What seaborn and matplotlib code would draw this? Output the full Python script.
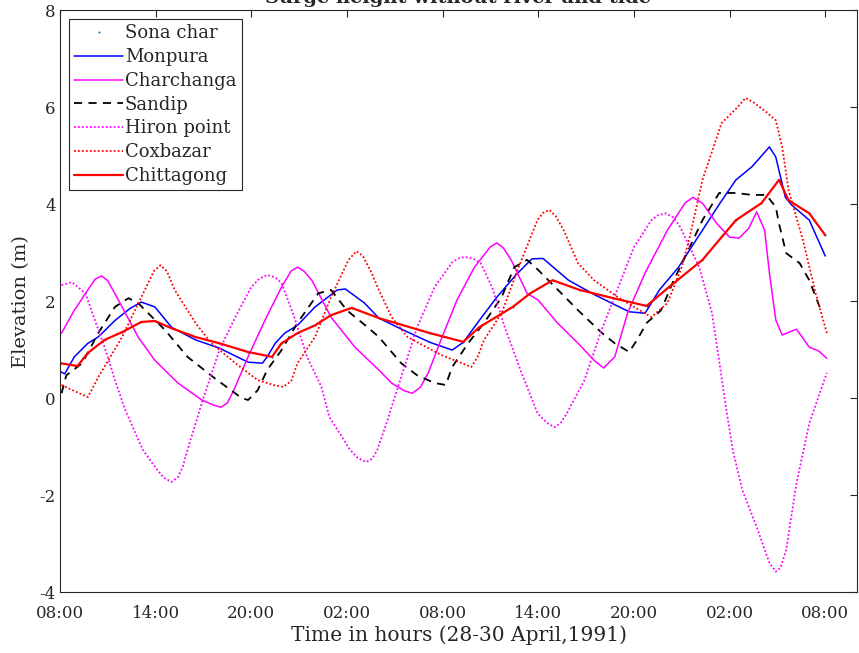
import numpy as np
import matplotlib.pyplot as plt
import pandas as pd
import seaborn as sns

sns.set_style('white')
plt.rcParams['font.family'] = ['DejaVu Serif']

# hours after 08:00, 28 April 1991
mon_t = [0, 0.3, 0.9, 1.75, 2.4, 3.45, 4.4, 5.1, 5.95, 7.0, 8.5, 10.0, 11.8, 12.7, 13.0, 13.5, 14.1, 14.9, 16.0,
         17.4, 17.9, 19.1, 20.0, 21.3, 23.2, 24.6, 25.3, 26.3, 27.4, 28.6, 29.6, 30.3, 31.9, 33.6, 35.7, 36.7,
         37.6, 38.8, 39.9, 41.4, 42.4, 43.4, 44.5, 44.9, 45.5, 45.9, 47.0, 48.0]
mon_v = [0.55, 0.50, 0.85, 1.13, 1.26, 1.6, 1.85, 1.98, 1.88, 1.46, 1.2, 1.03, 0.74, 0.72, 0.85, 1.13, 1.34, 1.5, 1.88,
         2.23, 2.25, 1.96, 1.65, 1.44, 1.15, 0.99, 1.15, 1.6, 2.08, 2.54, 2.87, 2.88, 2.43, 2.12, 1.78, 1.75,
         2.23, 2.70, 3.26, 4.02, 4.5, 4.77, 5.18, 4.97, 4.14, 3.98, 3.67, 2.93]

chit_t = [0, 1.1, 1.75, 2.8, 3.9, 5.1, 5.95, 7.0, 8.5, 10.0, 11.8, 13.3, 13.9, 14.9, 16.0, 17.0, 18.3, 20.0,
          23.2, 25.3, 26.3, 28.4, 29.5, 30.9, 32.6, 34.7, 36.8, 38.2, 40.3, 42.4, 44.0, 45.1, 45.7, 47.0, 48.0]
chit_v = [0.72, 0.66, 0.93, 1.2, 1.36, 1.57, 1.59, 1.44, 1.26, 1.13, 0.95, 0.85, 1.13, 1.34, 1.5, 1.71, 1.86, 1.65,
          1.34, 1.16, 1.46, 1.88, 2.16, 2.43, 2.23, 2.06, 1.9, 2.29, 2.85, 3.67, 4.02, 4.5, 4.08, 3.81, 3.36]

sona_t = [0, 1.1, 1.75, 2.8, 3.9, 5.1, 5.95, 7.0, 8.5, 10.0, 11.8, 13.3, 13.9, 14.9, 16.0, 17.0, 18.3, 20.0,
          23.2, 25.3, 26.3, 28.4, 29.5, 30.9, 32.6, 34.7, 36.8, 38.2, 40.3, 42.4, 44.0, 45.1, 45.7, 47.0, 48.0]
sona_v = [0.72, 0.66, 0.93, 1.2, 1.36, 1.57, 1.59, 1.44, 1.26, 1.13, 0.95, 0.85, 1.13, 1.34, 1.5, 1.71, 1.86, 1.65,
          1.34, 1.16, 1.46, 1.88, 2.16, 2.43, 2.23, 2.06, 1.9, 2.29, 2.85, 3.67, 4.02, 4.5, 4.08, 3.81, 3.36]

sand_t = [0.1, 0.4, 1.4, 2.4, 3.45, 4.3, 4.9, 6.6, 8.0, 9.7, 11.4, 11.8, 12.4, 13.0, 13.9, 14.9, 16.2, 17.0,
          18.0, 19.3, 20.0, 21.4, 22.4, 23.5, 24.2, 24.6, 25.6, 26.6, 27.7, 28.5, 29.3, 30.0, 31.45, 32.5, 34.0,
          34.8, 35.7, 36.2, 36.8, 37.7, 38.5, 39.5, 40.3, 41.35, 42.4, 43.4, 44.3, 44.9, 45.1, 45.55, 46.4, 47.0, 47.8]
sand_v = [0.1, 0.47, 0.72, 1.34, 1.88, 2.06, 1.96, 1.4, 0.85, 0.41, 0.0, -0.04, 0.16, 0.58, 0.99, 1.55, 2.16, 2.23,
          1.81, 1.46, 1.26, 0.72, 0.47, 0.31, 0.27, 0.64, 1.13, 1.55, 2.08, 2.70, 2.85, 2.64, 2.16, 1.81, 1.34,
          1.13, 0.95, 1.2, 1.55, 1.81, 2.43, 3.11, 3.67, 4.23, 4.23, 4.19, 4.19, 3.94, 3.6, 2.99, 2.78, 2.43, 1.75]

char_t = [0.1, 0.9, 1.75, 2.2, 2.6, 3.0, 3.9, 4.9, 5.95, 7.4, 8.9, 9.6, 10.1, 10.5, 10.9, 11.8, 12.85, 13.9, 14.5,
          14.9, 15.3, 15.8, 17.0, 18.5, 20.0, 20.8, 21.6, 22.1, 22.6, 23.1, 23.9, 24.9, 26.0, 27.0, 27.4, 27.8,
          28.3, 29.3, 30.0, 31.2, 32.5, 33.5, 34.1, 34.8, 35.6, 36.7, 38.1, 39.2, 39.7, 40.3, 41.2, 42.0, 42.6,
          43.2, 43.7, 44.2, 44.5, 44.9, 45.3, 46.2, 47.0, 47.6, 48.1]
char_v = [1.34, 1.81, 2.23, 2.45, 2.52, 2.42, 1.88, 1.26, 0.78, 0.31, -0.04, -0.14, -0.19, -0.1, 0.16, 0.85, 1.6,
          2.29, 2.62, 2.70, 2.62, 2.43, 1.67, 1.05, 0.58, 0.31, 0.15, 0.1, 0.22, 0.52, 1.2, 2.02, 2.70, 3.12, 3.2,
          3.1, 2.85, 2.16, 2.02, 1.55, 1.13, 0.78, 0.62, 0.85, 1.75, 2.58, 3.46, 4.02, 4.14, 4.02, 3.6, 3.32, 3.30,
          3.5, 3.84, 3.46, 2.58, 1.61, 1.30, 1.42, 1.05, 0.97, 0.82]

hiron_t = [0.1, 0.75, 1.6, 2.2, 2.8, 3.45, 4.1, 5.2, 6.1, 6.5, 7.0, 7.4, 7.7, 8.0, 8.9, 10.0, 11.0, 12.0, 12.5,
           13.0, 13.5, 13.9, 14.7, 15.5, 16.4, 16.9, 18.2, 18.7, 19.2, 19.6, 19.9, 20.55, 21.4, 22.4, 23.5, 24.6,
           25.0, 25.4, 25.9, 26.4, 27.1, 27.9, 28.95, 29.95, 30.5, 31.0, 31.4, 31.8, 32.9, 33.9, 34.95, 36.0, 37.1,
           37.5, 38.0, 38.5, 38.9, 40.1, 40.9, 41.4, 41.8, 42.2, 42.8, 43.7, 44.5, 44.9, 45.2, 45.55, 46.2, 47.0, 48.1]
hiron_v = [2.33, 2.39, 2.16, 1.6, 1.05, 0.37, -0.25, -1.07, -1.48, -1.64, -1.73, -1.63, -1.42, -1.07, -0.1, 0.99,
           1.67, 2.29, 2.46, 2.54, 2.49, 2.37, 1.67, 0.85, 0.23, -0.39, -1.07, -1.24, -1.32, -1.25, -1.07, -0.45,
           0.43, 1.46, 2.29, 2.8, 2.88, 2.91, 2.88, 2.78, 2.29, 1.46, 0.52, -0.31, -0.5, -0.6, -0.52, -0.31, 0.37,
           1.34, 2.23, 3.11, 3.67, 3.77, 3.81, 3.72, 3.53, 2.70, 1.75, 0.65, -0.25, -1.07, -1.9, -2.66, -3.4, -3.58,
           -3.5, -3.13, -1.75, -0.52, 0.52]

cox_t = [0.1, 1.2, 1.75, 2.4, 3.9, 5.1, 5.9, 6.3, 6.7, 7.2, 8.5, 9.5, 11.0, 12.4, 13.4, 14.0, 14.5, 14.9, 16.0,
         17.0, 18.1, 18.6, 19.0, 19.55, 20.0, 20.8, 21.8, 23.9, 25.2, 25.8, 26.2, 26.6, 27.7, 28.7, 29.95, 30.3,
         30.7, 31.1, 31.6, 32.5, 33.5, 35.0, 36.0, 37.1, 38.1, 39.0, 39.5, 40.3, 41.5, 42.5, 43.0, 43.5, 44.3,
         44.9, 45.3, 45.7, 46.6, 47.4, 48.1]
cox_v = [0.27, 0.1, 0.02, 0.43, 1.26, 2.08, 2.62, 2.74, 2.62, 2.23, 1.55, 1.13, 0.72, 0.37, 0.27, 0.23, 0.35,
         0.72, 1.26, 2.08, 2.85, 3.03, 2.93, 2.58, 2.23, 1.67, 1.26, 0.89, 0.72, 0.64, 0.85, 1.2, 1.75, 2.64, 3.67,
         3.82, 3.88, 3.75, 3.46, 2.78, 2.43, 2.08, 1.88, 1.67, 1.96, 2.70, 3.32, 4.5, 5.67, 6.0, 6.19, 6.1, 5.90,
         5.73, 5.18, 4.29, 3.26, 2.16, 1.34]

tick_hours = [0, 6, 12, 18, 24, 30, 36, 42, 48]
tick_labels = ['08:00', '14:00', '20:00', '02:00', '08:00', '14:00', '20:00', '02:00', '08:00']
y_ticks = [-4, -2, 0, 2, 4, 6, 8]
y_labels = ['-4', '-2', '0', '2', '4', '6', '8']

fig = plt.figure(figsize=(8.59, 6.53), dpi=100)
ax = fig.add_axes([0.0698, 0.0934, 0.928, 0.891])

sns.lineplot(x=sona_t, y=sona_v, ax=ax, color=(0, 0.447, 0.741), linestyle='none', marker='.',
             markersize=3, markeredgewidth=0, label='Sona char')
sns.lineplot(x=mon_t, y=mon_v, ax=ax, color='#0000ff', lw=1.1, label='Monpura')
sns.lineplot(x=char_t, y=char_v, ax=ax, color='#ff00ff', lw=1.1, label='Charchanga')
sns.lineplot(x=sand_t, y=sand_v, ax=ax, color='black', lw=1.3, linestyle=(0, (4.5, 3.5)), label='Sandip')
sns.lineplot(x=hiron_t, y=hiron_v, ax=ax, color='#ff00ff', lw=1.3, linestyle=(0, (1, 1.2)), label='Hiron point')
sns.lineplot(x=cox_t, y=cox_v, ax=ax, color='#ff0000', lw=1.3, linestyle=(0, (1, 1.2)), label='Coxbazar')
sns.lineplot(x=chit_t, y=chit_v, ax=ax, color='#ff0000', lw=1.6, label='Chittagong')

ax.set_xlim(0, 50)
ax.set_ylim(-4, 8)
ax.set_xticks(tick_hours)
ax.set_xticklabels(tick_labels)
ax.set_yticks(y_ticks)
ax.set_yticklabels(y_labels)
ax.tick_params(direction='in', length=5, width=0.8, top=True, right=True, labelsize=12,
               colors='#262626', pad=3)
ax.tick_params(axis='x', pad=9)
for s in ax.spines.values():
    s.set_color('#262626')
    s.set_linewidth(0.8)

ax.set_xlabel('Time in hours (28-30 April,1991)', fontsize=14.5, color='#262626', labelpad=3)
ax.set_ylabel('Elevation (m)', fontsize=14, color='#262626', labelpad=7)
fig.text(0.5334, 1.003, 'Surge height without river and tide', ha='center', va='center',
         fontsize=14, fontweight='bold')

leg = ax.legend(loc='upper left', bbox_to_anchor=(0.011, 0.985), fontsize=13, handlelength=2.7,
                handletextpad=0.1, labelspacing=0.32, borderpad=0.3, borderaxespad=0, fancybox=False,
                framealpha=1, edgecolor='#262626')
leg.get_frame().set_linewidth(0.8)

fig.savefig('out.png', dpi=100)
